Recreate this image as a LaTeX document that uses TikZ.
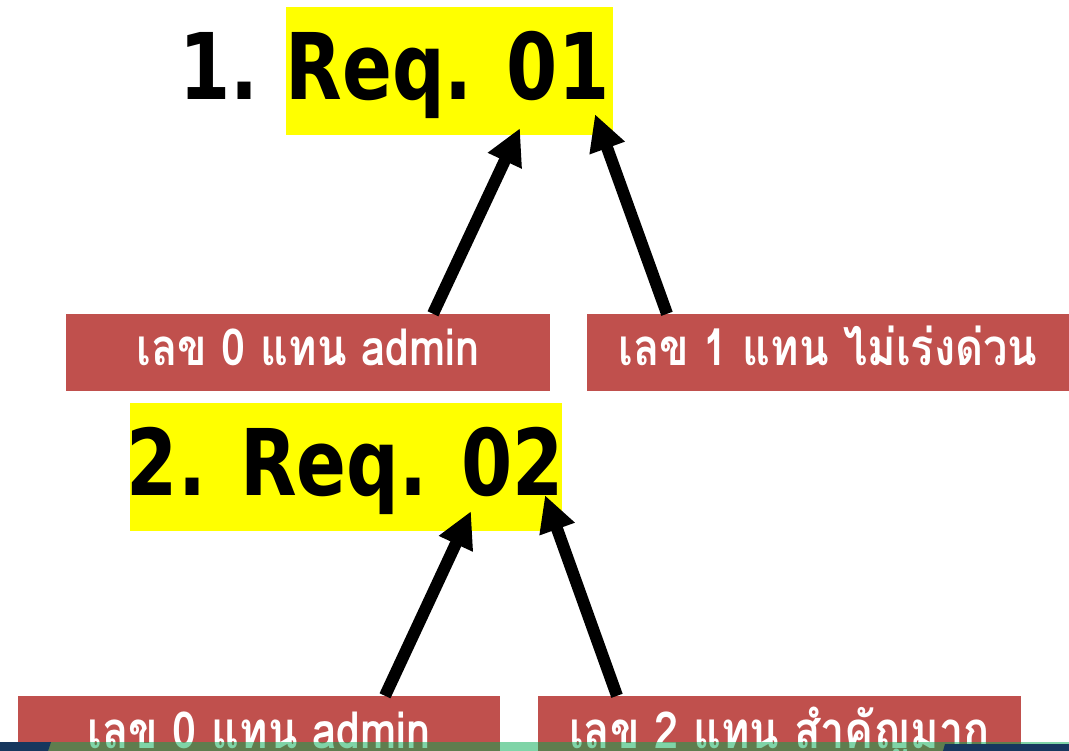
\documentclass[tikz,border=0pt]{standalone}
\usepackage{fontspec}
\usetikzlibrary{arrows.meta,calc}
\newfontfamily\titlefont[FakeStretch=0.8]{DejaVu Sans Bold}
\newfontfamily\thaifont[Script=Thai,FakeStretch=0.85]{Loma}
\definecolor{boxred}{RGB}{192,80,77}
\definecolor{ttlyellow}{RGB}{255,255,0}
\definecolor{stripgreen}{RGB}{0,170,80}
\definecolor{navy}{RGB}{23,55,94}
\tikzset{
  ttlbox/.style={fill=ttlyellow, draw=none, inner sep=0pt, minimum width=#1, minimum height=128pt},
  ttltext/.style={font=\titlefont\fontsize{92}{92}\selectfont, text=black, inner sep=0pt, anchor=base},
  redbox/.style={fill=boxred, draw=none, inner sep=0pt, minimum width=#1, minimum height=77pt,
    text=white, font=\thaifont\bfseries\fontsize{51}{51}\selectfont, text height=30pt, text depth=3pt},
  arr/.style={line width=12pt, -{Triangle[length=36pt,width=35pt]}, black}
}
\begin{document}
\begin{tikzpicture}[x=1pt,y=-1pt]
\useasboundingbox (0,0) rectangle (1069,751);
% titles
\node[ttlbox=327pt] (r1) at (449.5,71) {};
\node[ttltext] (r1t) at (447.5,100) {Req. 01};
\node[ttltext, anchor=base east] (n1) at (259,100) {1.};
\node[ttlbox=432pt] (r2) at (346,467) {};
\node[ttltext] (r2t) at (345.5,495) {2. Req. 02};
% boxes
\node[redbox=484pt] (a1) at (308,352.5) {เลข 0 แทน admin};
\node[redbox=482pt] (b1) at (828,352.5) {เลข 1 แทน ไม่เร่งด่วน};
\node[redbox=482pt] (a2) at (259,734.5) {เลข 0 แทน admin};
\node[redbox=483pt] (b2) at (779.5,734.5) {เลข 2 แทน สำคัญมาก};
% arrow end points
\coordinate (a1s) at ($(a1.north)+(125,0)$);
\coordinate (b1s) at ($(b1.north)+(-161,0)$);
\coordinate (a2s) at ($(a2.north)+(126,0)$);
\coordinate (b2s) at ($(b2.north)+(-162.5,0)$);
\coordinate (t1a) at ($(r1.south)+(70.5,-7)$);
\coordinate (t1b) at ($(r1.south)+(145.5,-21)$);
\coordinate (t2a) at ($(r2.south)+(125,-20)$);
\coordinate (t2b) at ($(r2.south)+(199,-36)$);
\draw[arr] (a1s) -- (t1a);
\draw[arr] (b1s) -- (t1b);
\draw[arr] (a2s) -- (t2a);
\draw[arr] (b2s) -- (t2b);
% bottom strip
\fill[stripgreen, fill opacity=0.5] (0,742) rectangle (1069,751);
\fill[navy] (0,742) -- (51,742) -- (48,751) -- (0,751) -- cycle;
\fill[navy] (945,744) -- (1069,744) -- (1069,751) -- (943,751) -- cycle;
\end{tikzpicture}
\end{document}
